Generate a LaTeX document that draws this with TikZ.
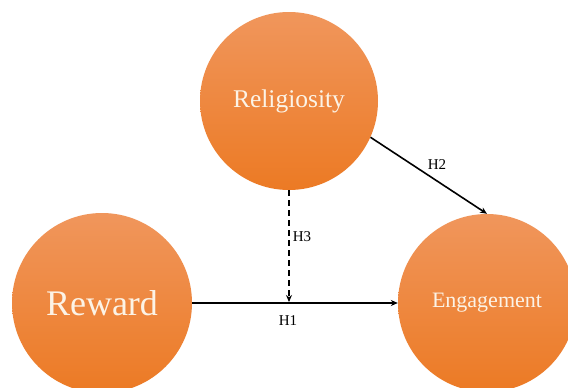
\documentclass[tikz,border=0pt]{standalone}
\usepackage{fontspec}
\setmainfont{Liberation Serif}
\usetikzlibrary{arrows.meta}
\definecolor{orTop}{HTML}{F0965C}
\definecolor{orBot}{HTML}{EC7A24}
\definecolor{txtc}{HTML}{FCF3E6}
\tikzset{
  ball/.style={circle, minimum size=178pt, inner sep=0pt, top color=orTop, bottom color=orBot, draw=none, text=txtc},
  link/.style={line width=1.6pt, -{Stealth[length=7pt,width=6pt]}},
  dlink/.style={link, dash pattern=on 6pt off 4pt},
  hlab/.style={font=\fontsize{15}{17}\selectfont, inner sep=1pt}
}
\begin{document}
\begin{tikzpicture}[x=1pt,y=-1pt]
\useasboundingbox (0,0) rectangle (568,388);
\fill[white] (0,0) rectangle (568,388);
\node[ball, font=\fontsize{25.5}{28}\selectfont] (rel) at (289,101) {Religiosity};
\node[ball, minimum size=180pt, font=\fontsize{36}{40}\selectfont] (rew) at (102,303) {Reward};
\node[ball, font=\fontsize{22}{25}\selectfont] (eng) at (487,303) {Engagement};
\coordinate (h3end) at (289,302);
\draw[link] (rew) -- (eng);
\draw[link] (rel.-24) -- (eng.north);
\draw[dlink] (rel.south) -- (h3end);
\node[hlab] (h1) at (288,321) {H1};
\node[hlab] (h2) at (437,165) {H2};
\node[hlab] (h3) at (302,237) {H3};
\end{tikzpicture}
\end{document}
